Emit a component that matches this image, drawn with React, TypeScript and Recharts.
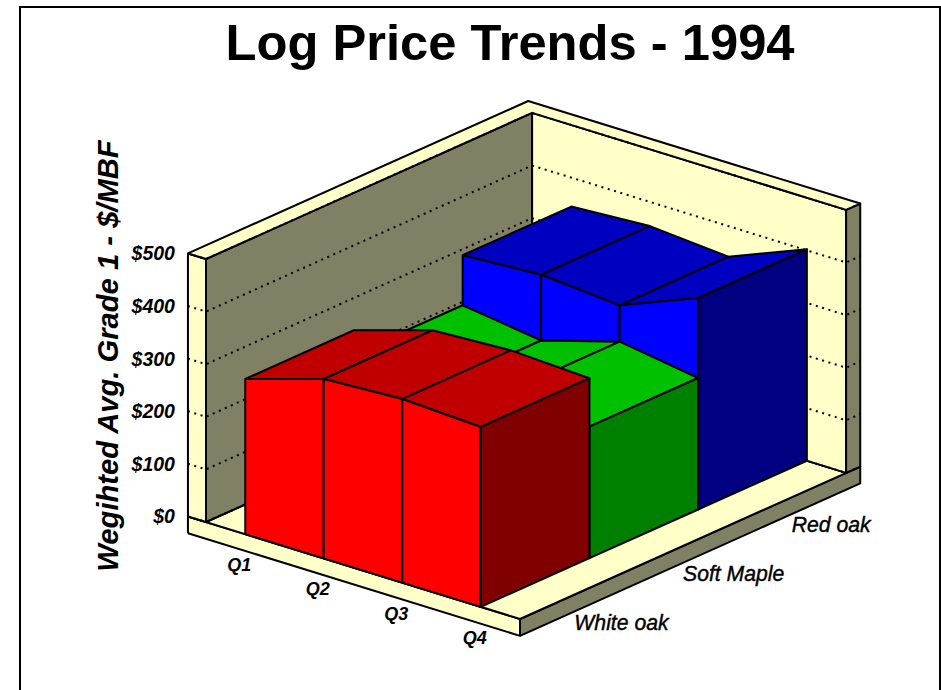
import React from 'react';
import { ComposedChart, Scatter, XAxis, YAxis } from 'recharts';

const quarters = ['Q1', 'Q2', 'Q3', 'Q4'];
const seriesNames = ['White oak', 'Soft Maple', 'Red oak'];
const whiteOak = [295, 341, 349, 342];
const softMaple = [250, 229, 273, 250];
const redOak = [345, 354, 342, 402];
const priceTicks = [0, 100, 200, 300, 400, 500];
const tickText = ['$0', '$100', '$200', '$300', '$400', '$500'];
const title = 'Log Price Trends - 1994';
const yTitle = 'Wegihted Avg. Grade 1 - $/MBF';

const W = 941;
const H = 690;
const YELLOW = '#FFFFC8';
const GRAY = '#808064';
const SANS = '"Liberation Sans", Arial, sans-serif';

// oblique projection of (quarter position, depth position, price) on to the picture
const project = (u: number, v: number, h: number) => ({
  x: 206 + 78.5 * u + 108.7 * v,
  y: 522 + 24.25 * u - 48.7 * v - 0.526 * h,
});

type P = { x: number; y: number; t?: string };
type Face = { pts: P[]; fill: string; dash?: boolean };

const U0 = -0.23; // outer edge of the left wall
const U1 = 4;
const V1 = 3;
const V2 = 3.13; // outer edge of the back wall
const TOP = 500;
const SLAB = -32;

const face = (fill: string, ...c: [number, number, number][]): Face => {
  const pts = c.map(([u, v, h]) => project(u, v, h));
  return { fill, pts: [...pts, pts[0]] };
};

const frameFaces: Face[] = [
  face(YELLOW, [U0, 0, SLAB], [U1, 0, SLAB], [U1, 0, 0], [U0, 0, 0]),
  face(GRAY, [U1, 0, SLAB], [U1, V2, SLAB], [U1, V2, 0], [U1, 0, 0]),
  face(YELLOW, [U0, 0, 0], [U1, 0, 0], [U1, V2, 0], [U1, V1, 0], [0, V1, 0], [0, 0, 0]),
  face(GRAY, [0, 0, 0], [0, V1, 0], [0, V1, TOP], [0, 0, TOP]),
  face(YELLOW, [0, V1, 0], [U1, V1, 0], [U1, V1, TOP], [0, V1, TOP]),
  face(YELLOW, [U0, 0, 0], [0, 0, 0], [0, 0, TOP], [U0, 0, TOP]),
  face(GRAY, [U1, V1, 0], [U1, V2, 0], [U1, V2, TOP], [U1, V1, TOP]),
  face(YELLOW, [U0, 0, TOP], [0, 0, TOP], [0, V1, TOP], [U1, V1, TOP], [U1, V2, TOP], [U0, V2, TOP]),
];

const gridLines: Face[] = priceTicks.flatMap((p) => [
  { fill: 'none', dash: true, pts: [project(U0, 0, p), project(0, 0, p), project(0, V1, p), project(U1, V1, p), project(U1, V2, p)] },
]);

const bandFaces = (vals: number[], d: number, top: string, front: string, side: string): Face[] => {
  const at = (i: number) => i + 0.5;
  const out: Face[] = [];
  for (let i = 0; i < vals.length - 1; i++) {
    out.push(face(top, [at(i), d, vals[i]], [at(i + 1), d, vals[i + 1]], [at(i + 1), d + 1, vals[i + 1]], [at(i), d + 1, vals[i]]));
  }
  for (let i = 0; i < vals.length - 1; i++) {
    out.push(face(front, [at(i), d, 0], [at(i + 1), d, 0], [at(i + 1), d, vals[i + 1]], [at(i), d, vals[i]]));
  }
  const l = vals.length - 1;
  out.push(face(side, [at(l), d, 0], [at(l), d + 1, 0], [at(l), d + 1, vals[l]], [at(l), d, vals[l]]));
  return out;
};

const faces: Face[] = [
  ...frameFaces,
  ...gridLines,
  ...bandFaces(redOak, 2, '#0000C0', '#0000FF', '#000080'),
  ...bandFaces(softMaple, 1, '#00C000', '#00FF00', '#008000'),
  ...bandFaces(whiteOak, 0, '#C00000', '#FF0000', '#800000'),
];

const priceLabels: P[] = priceTicks.map((p, i) => {
  const c = project(U0, 0, p);
  return { x: c.x - 13, y: c.y + 7, t: tickText[i] };
});
const quarterLabels: P[] = quarters.map((q, i) => {
  const c = project(i + 0.5, 0, 0);
  return { x: c.x - 6, y: c.y + 37, t: q };
});
const seriesLabels: P[] = seriesNames.map((s, i) => {
  const c = project(U1, i + 0.5, 0);
  return { x: c.x, y: c.y + 35, t: s };
});

const noDot = () => null;
const textShape = (anchor: string, size: number, weight: number, thicken = 0) => (props: any) => (
  <text
    x={props.cx}
    y={props.cy}
    textAnchor={anchor}
    fontSize={size}
    fontFamily={SANS}
    fontWeight={weight}
    fontStyle="italic"
    fill="#000"
    stroke={thicken ? '#000' : 'none'}
    strokeWidth={thicken}
  >
    {props.payload.t}
  </text>
);

export default function App() {
  return (
    <div style={{ position: 'absolute', left: 0, top: 0, width: W, height: H, overflow: 'hidden', background: '#fff' }}>
      <div style={{ position: 'absolute', left: 19, top: 6, width: 918, height: 720, border: '2px solid #000' }} />
      <div style={{ position: 'absolute', left: 0, top: 0 }}>
        <ComposedChart width={W} height={H} margin={{ top: 0, right: 0, bottom: 0, left: 0 }}>
          <XAxis type="number" dataKey="x" domain={[0, W]} hide allowDataOverflow />
          <YAxis type="number" dataKey="y" domain={[0, H]} reversed hide allowDataOverflow />
          {faces.map((f, i) => (
            <Scatter
              key={i}
              data={f.pts}
              isAnimationActive={false}
              shape={noDot}
              line={
                f.dash
                  ? { stroke: '#000', strokeWidth: 2, strokeDasharray: '2 4.6', fill: 'none' }
                  : { stroke: '#000', strokeWidth: 2, fill: f.fill, strokeLinejoin: 'round' }
              }
            />
          ))}
          <Scatter data={priceLabels} isAnimationActive={false} shape={textShape('end', 19.5, 700)} />
          <Scatter data={quarterLabels} isAnimationActive={false} shape={textShape('middle', 18, 700)} />
          <Scatter data={seriesLabels} isAnimationActive={false} shape={textShape('start', 21.2, 400, 0.4)} />
          <Scatter
            data={[{ x: 510, y: 60, t: title }]}
            isAnimationActive={false}
            shape={(p: any) => (
              <text x={p.cx} y={p.cy} textAnchor="middle" fontSize={50.7} fontFamily={SANS} fontWeight={700} fill="#000">
                {p.payload.t}
              </text>
            )}
          />
          <Scatter
            data={[{ x: 118, y: 356, t: yTitle }]}
            isAnimationActive={false}
            shape={(p: any) => (
              <text
                x={p.cx}
                y={p.cy}
                textAnchor="middle"
                fontSize={29.2}
                fontFamily={SANS}
                fontWeight={700}
                fontStyle="italic"
                fill="#000"
                transform={`rotate(-90 ${p.cx} ${p.cy})`}
              >
                {p.payload.t}
              </text>
            )}
          />
        </ComposedChart>
      </div>
    </div>
  );
}
